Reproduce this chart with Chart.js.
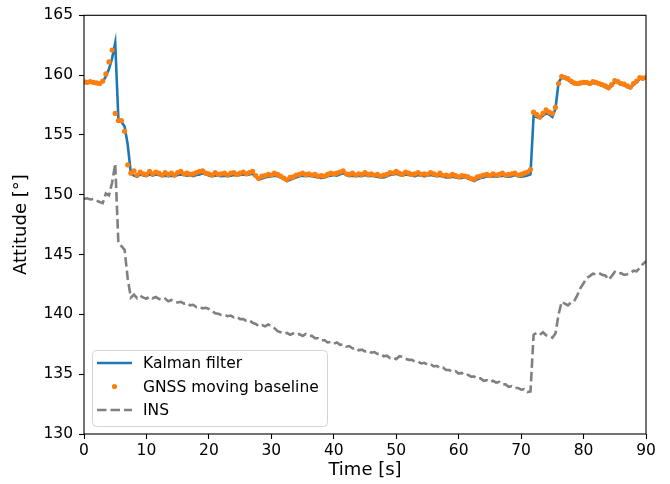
<!DOCTYPE html>
<html>
<head>
<meta charset="utf-8">
<script src="https://cdn.jsdelivr.net/npm/chart.js@4.4.0/dist/chart.umd.min.js"></script>
<style>
  html, body { margin: 0; padding: 0; background: #fff; }
  #wrap { width: 670px; height: 484px; position: relative; }
</style>
</head>
<body>
<div id="wrap"><canvas id="chart"></canvas></div>
<script>
// samples every 0.5 s
const sampleStep = 0.5;

const kalman = [
  159.35, 159.35, 159.4, 159.35, 159.3, 159.3, 159.45, 159.9, 160.5, 161.4,
  162.7, 156.4, 156.1, 155.7, 154.2, 151.8, 151.6, 151.5, 151.7, 151.6,
  151.55, 151.7, 151.6, 151.7, 151.65, 151.55, 151.6, 151.55, 151.6, 151.55,
  151.65, 151.7, 151.65, 151.6, 151.65, 151.55, 151.65, 151.7, 151.8, 151.7,
  151.6, 151.55, 151.6, 151.6, 151.55, 151.6, 151.55, 151.6, 151.65, 151.6,
  151.65, 151.7, 151.65, 151.7, 151.75, 151.5, 151.25, 151.35, 151.45, 151.5,
  151.55, 151.6, 151.55, 151.45, 151.3, 151.15, 151.25, 151.35, 151.45, 151.55,
  151.6, 151.55, 151.6, 151.55, 151.5, 151.45, 151.4, 151.45, 151.55, 151.6,
  151.65, 151.6, 151.7, 151.8, 151.65, 151.55, 151.6, 151.55, 151.6, 151.55,
  151.65, 151.55, 151.6, 151.55, 151.5, 151.45, 151.45, 151.55, 151.65, 151.7,
  151.75, 151.65, 151.6, 151.7, 151.65, 151.6, 151.55, 151.65, 151.6, 151.55,
  151.6, 151.65, 151.6, 151.55, 151.6, 151.5, 151.45, 151.45, 151.5, 151.45,
  151.4, 151.4, 151.45, 151.35, 151.25, 151.15, 151.3, 151.4, 151.45, 151.55,
  151.5, 151.55, 151.5, 151.55, 151.6, 151.55, 151.5, 151.55, 151.65, 151.55,
  151.5, 151.55, 151.6, 151.7, 156.6, 156.5, 156.4, 156.6, 156.8, 156.7,
  156.5, 157.2, 159.4, 159.8, 159.7, 159.6, 159.4, 159.25, 159.2, 159.25,
  159.3, 159.3, 159.2, 159.35, 159.3, 159.2, 159.1, 159.0, 158.85, 159.1,
  159.45, 159.35, 159.2, 159.15, 159.0, 158.9, 159.2, 159.4, 159.7, 159.65,
  159.75
];

const gnss = [
  159.45, 159.4, 159.45, 159.4, 159.35, 159.3, 159.5, 160.1, 161.1, 162.1,
  156.8, 156.2, 156.2, 155.3, 152.5, 151.8, 152.0, 151.65, 151.9, 151.75,
  151.7, 151.95, 151.75, 151.9, 151.8, 151.65, 151.85, 151.7, 151.8, 151.65,
  151.85, 151.95, 151.75, 151.8, 151.7, 151.75, 151.85, 151.95, 152.0, 151.8,
  151.75, 151.65, 151.85, 151.7, 151.75, 151.8, 151.65, 151.8, 151.85, 151.7,
  151.8, 151.9, 151.75, 151.85, 151.95, 151.6, 151.35, 151.55, 151.6, 151.7,
  151.65, 151.8, 151.7, 151.55, 151.4, 151.25, 151.45, 151.5, 151.65, 151.7,
  151.8, 151.7, 151.75, 151.65, 151.7, 151.55, 151.6, 151.55, 151.7, 151.8,
  151.75, 151.8, 151.9, 152.0, 151.75, 151.7, 151.8, 151.65, 151.75, 151.7,
  151.85, 151.7, 151.75, 151.65, 151.7, 151.55, 151.65, 151.7, 151.85, 151.8,
  151.95, 151.8, 151.7, 151.9, 151.8, 151.7, 151.75, 151.85, 151.7, 151.75,
  151.7, 151.85, 151.75, 151.65, 151.8, 151.6, 151.65, 151.55, 151.7, 151.6,
  151.5, 151.6, 151.55, 151.5, 151.35, 151.3, 151.5, 151.55, 151.65, 151.7,
  151.6, 151.75, 151.65, 151.7, 151.8, 151.65, 151.7, 151.75, 151.8, 151.65,
  151.7, 151.8, 151.9, 152.1, 156.9, 156.7, 156.5, 156.8, 157.1, 156.9,
  156.8, 157.3, 159.3, 159.9, 159.8, 159.7, 159.5, 159.35, 159.3, 159.35,
  159.4, 159.4, 159.3, 159.45, 159.4, 159.3, 159.2, 159.1, 158.95, 159.2,
  159.55, 159.45, 159.3, 159.25, 159.1, 159.0, 159.3, 159.5, 159.8, 159.75,
  159.8
];

const ins = [
  149.65, 149.7, 149.6, 149.65, 149.5, 149.4, 149.3, 150.1, 149.95, 151.0,
  152.6, 146.0, 145.7, 145.4, 143.0, 141.4, 141.65, 141.35, 141.55, 141.4,
  141.3, 141.5, 141.35, 141.45, 141.3, 141.2, 141.3, 141.1, 141.2, 141.05,
  141.0, 141.05, 140.9, 140.95, 140.75, 140.8, 140.6, 140.65, 140.5, 140.55,
  140.45, 140.3, 140.1, 140.05, 139.95, 139.95, 139.85, 139.9, 139.75, 139.8,
  139.6, 139.6, 139.45, 139.5, 139.3, 139.2, 139.0, 139.1, 139.0, 139.15,
  139.05, 138.85, 138.6, 138.5, 138.4, 138.45, 138.3, 138.4, 138.3, 138.35,
  138.2, 138.35, 138.2, 138.2, 138.0, 138.0, 137.8, 137.85, 137.65, 137.7,
  137.55, 137.65, 137.45, 137.5, 137.3, 137.35, 137.15, 137.2, 137.0, 137.05,
  136.9, 136.95, 136.8, 136.85, 136.7, 136.7, 136.5, 136.55, 136.35, 136.4,
  136.25, 136.5, 136.45, 136.3, 136.2, 136.2, 136.05, 136.05, 135.9, 135.95,
  135.8, 135.85, 135.65, 135.7, 135.5, 135.55, 135.35, 135.35, 135.2, 135.25,
  135.05, 135.1, 134.9, 134.95, 134.8, 134.8, 134.65, 134.65, 134.45, 134.5,
  134.35, 134.45, 134.3, 134.35, 134.15, 134.15, 133.95, 134.0, 133.85, 133.85,
  133.7, 133.75, 133.5, 133.55, 138.3, 138.45, 138.3, 138.5, 138.25, 138.2,
  138.05, 138.4, 140.0, 141.05, 140.9, 140.75, 141.0, 141.1, 141.6, 142.2,
  142.6, 143.05, 143.2, 143.4, 143.35, 143.45, 143.3, 143.25, 142.9, 143.2,
  143.55, 143.4, 143.45, 143.3, 143.35, 143.45, 143.65, 143.6, 143.9, 144.2,
  144.45
];

const xTicks = [0, 10, 20, 30, 40, 50, 60, 70, 80, 90];
const yTicks = [130, 135, 140, 145, 150, 155, 160, 165];
const names = ["Kalman filter", "GNSS moving baseline", "INS"];

const time = kalman.map((v, i) => i * sampleStep);
const pts = (vals) => vals.map((v, i) => ({ x: time[i], y: v }));

const FONT = "'DejaVu Sans', sans-serif";

// black frame on all four sides, like matplotlib axes
const framePlugin = {
  id: 'frame',
  afterDraw(chart) {
    const a = chart.chartArea, ctx = chart.ctx;
    ctx.save();
    ctx.strokeStyle = '#000';
    ctx.lineWidth = 1.1;
    ctx.strokeRect(a.left, a.top, a.right - a.left, a.bottom - a.top);
    ctx.restore();
  }
};

// legend box in the lower left corner
const boxLegend = {
  id: 'boxLegend',
  afterDraw(chart) {
    const a = chart.chartArea, ctx = chart.ctx;
    const ds = chart.data.datasets;
    const x0 = a.left + 8, y0 = a.bottom - 84, w = 235, h = 76, r = 4;
    ctx.save();
    ctx.beginPath();
    ctx.roundRect(x0 + 0.5, y0 + 0.5, w, h, r);
    ctx.fillStyle = 'rgba(255,255,255,0.8)';
    ctx.fill();
    ctx.strokeStyle = '#d4d4d4';
    ctx.lineWidth = 1;
    ctx.stroke();

    const rowY = [y0 + 13, y0 + 36.5, y0 + 60];
    const lx0 = x0 + 5, lx1 = x0 + 40;
    // Kalman line
    ctx.beginPath();
    ctx.strokeStyle = ds[0].borderColor;
    ctx.lineWidth = ds[0].borderWidth;
    ctx.moveTo(lx0, rowY[0]); ctx.lineTo(lx1, rowY[0]);
    ctx.stroke();
    // GNSS dot
    ctx.beginPath();
    ctx.fillStyle = ds[1].backgroundColor;
    ctx.arc((lx0 + lx1) / 2, rowY[1], ds[1].pointRadius, 0, Math.PI * 2);
    ctx.fill();
    // INS dashed
    ctx.beginPath();
    ctx.strokeStyle = ds[2].borderColor;
    ctx.lineWidth = ds[2].borderWidth;
    ctx.setLineDash(ds[2].borderDash);
    ctx.moveTo(lx0, rowY[2]); ctx.lineTo(lx1, rowY[2]);
    ctx.stroke();
    ctx.setLineDash([]);

    ctx.fillStyle = '#000';
    ctx.font = '15.5px ' + FONT;
    ctx.textBaseline = 'middle';
    names.forEach((n, i) => ctx.fillText(n, x0 + 51, rowY[i] + 1));
    ctx.restore();
  }
};

new Chart(document.getElementById('chart'), {
  type: 'line',
  data: {
    datasets: [{
      label: names[0],
      data: pts(kalman),
      borderColor: '#1f77b4',
      borderWidth: 2.6,
      pointRadius: 0,
      tension: 0,
      order: 3
    }, {
      label: names[1],
      data: pts(gnss),
      showLine: false,
      backgroundColor: '#ff7f0e',
      borderColor: '#ff7f0e',
      borderWidth: 0,
      pointRadius: 2.6,
      order: 2
    }, {
      label: names[2],
      data: pts(ins),
      borderColor: '#808080',
      borderWidth: 2.6,
      borderDash: [9.5, 4],
      pointRadius: 0,
      tension: 0,
      order: 1
    }]
  },
  options: {
    responsive: true,
    maintainAspectRatio: false,
    animation: false,
    events: [],
    layout: { padding: { left: 0, top: 14, right: 24, bottom: 0 } },
    plugins: {
      legend: { display: false },
      tooltip: { enabled: false }
    },
    scales: {
      x: {
        type: 'linear',
        min: 0,
        max: 90,
        afterBuildTicks: (s) => { s.ticks = xTicks.map(v => ({ value: v })); },
        afterFit: (s) => { s.height = 50; },
        border: { display: false },
        grid: { drawOnChartArea: false, drawTicks: true, tickLength: 5, color: '#000', tickWidth: 1.1 },
        ticks: { color: '#000', font: { family: FONT, size: 15.5 }, padding: 3, maxRotation: 0 },
        title: { display: true, text: 'Time [s]', color: '#000', font: { family: FONT, size: 18 }, padding: { top: 0, bottom: 3 } }
      },
      y: {
        min: 130,
        max: 165,
        afterBuildTicks: (s) => { s.ticks = yTicks.map(v => ({ value: v })); },
        afterFit: (s) => { s.width = 84; },
        border: { display: false },
        grid: { drawOnChartArea: false, drawTicks: true, tickLength: 5, color: '#000', tickWidth: 1.1 },
        ticks: { color: '#000', font: { family: FONT, size: 15.5 }, padding: 6 },
        title: { display: true, text: 'Attitude [°]', color: '#000', font: { family: FONT, size: 18 }, padding: { top: 11, bottom: 0 } }
      }
    }
  },
  plugins: [framePlugin, boxLegend]
});
</script>
</body>
</html>
